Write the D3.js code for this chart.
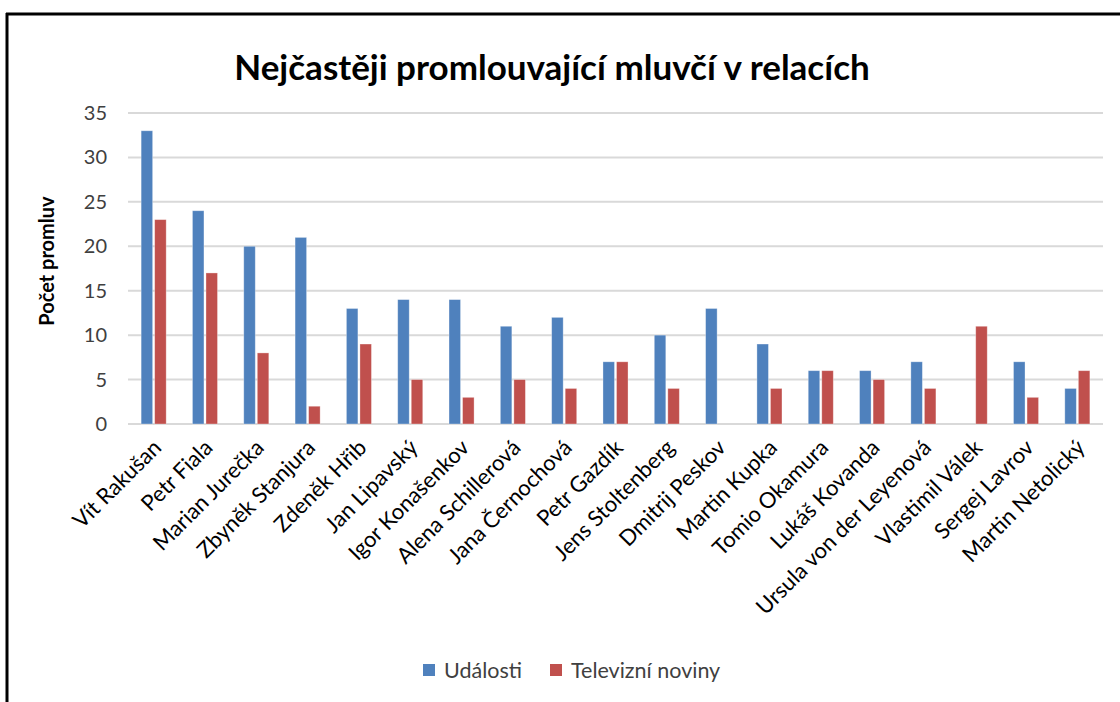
<!DOCTYPE html>
<html>
<head>
<meta charset="utf-8">
<script src="https://cdn.jsdelivr.net/npm/d3@7"></script>
<style>
  body { margin: 0; background: #fff; }
  svg { display: block; }
</style>
</head>
<body>
<div class="chart_wrapper"></div>
<script>
const speakers = ["Vít Rakušan", "Petr Fiala", "Marian Jurečka", "Zbyněk Stanjura", "Zdeněk Hřib",
  "Jan Lipavský", "Igor Konašenkov", "Alena Schillerová", "Jana Černochová", "Petr Gazdík",
  "Jens Stoltenberg", "Dmitrij Peskov", "Martin Kupka", "Tomio Okamura", "Lukáš Kovanda",
  "Ursula von der Leyenová", "Vlastimil Válek", "Sergej Lavrov", "Martin Netolický"]
const udalosti = [33, 24, 20, 21, 13, 14, 14, 11, 12, 7, 10, 13, 9, 6, 6, 7, 0, 7, 4]
const televizniNoviny = [23, 17, 8, 2, 9, 5, 3, 5, 4, 7, 4, 0, 4, 6, 5, 4, 11, 3, 6]
const seriesNames = ["Události", "Televizní noviny"]
const yTicks = [0, 5, 10, 15, 20, 25, 30, 35]

const width = 1120
const height = 702
const margin = { top: 113, left: 128, right: 17, bottom: 278 }
const colors = ["#4F81BD", "#C0504D"]
const font = "Lato, 'Open Sans', sans-serif"

const rows = speakers.map((name, i) => ({ name, values: [udalosti[i], televizniNoviny[i]] }))

const svg = d3.select('.chart_wrapper')
  .append('svg')
  .attr('width', width)
  .attr('height', height)

// frame (only left + top edges are visible in the crop)
svg.append("line").attr("x1", 7).attr("x2", 7).attr("y1", 13).attr("y2", height)
  .attr("stroke", "#000").attr("stroke-width", 3)
svg.append("line").attr("x1", 6).attr("x2", width).attr("y1", 14).attr("y2", 14)
  .attr("stroke", "#000").attr("stroke-width", 3)

const x0 = d3.scaleBand()
  .domain(speakers)
  .range([margin.left, width - margin.right])
  .padding(0)
const x1 = d3.scaleBand()
  .domain(d3.range(seriesNames.length))
  .range([0, x0.bandwidth()])
  .paddingInner(0.15)
  .paddingOuter(0.97)
const y = d3.scaleLinear()
  .domain([0, 35])
  .range([height - margin.bottom, margin.top])

// gridlines
svg.append("g")
  .selectAll("line")
  .data(yTicks)
  .join("line")
  .attr("x1", margin.left)
  .attr("x2", width - margin.right)
  .attr("y1", d => y(d))
  .attr("y2", d => y(d))
  .attr("stroke", "#D9D9D9")
  .attr("stroke-width", 2)

// y tick labels
svg.append("g")
  .style("font", `20px ${font}`)
  .attr("fill", "#404040")
  .attr("text-anchor", "end")
  .selectAll("text")
  .data(yTicks)
  .join("text")
  .attr("x", 107)
  .attr("y", d => y(d))
  .attr("dy", "0.35em")
  .text(d => d)

// bars
const group = svg.append("g")
  .selectAll("g")
  .data(rows)
  .join("g")
  .attr("transform", d => `translate(${x0(d.name)},0)`)
group.selectAll("rect")
  .data(d => d.values.map((v, i) => ({ v, i })))
  .join("rect")
  .attr("x", d => x1(d.i))
  .attr("width", x1.bandwidth())
  .attr("y", d => y(d.v))
  .attr("height", d => y(0) - y(d.v))
  .attr("fill", d => colors[d.i])
  .attr("stroke", "#fff")
  .attr("stroke-opacity", 0.4)
  .attr("stroke-width", 0.8)

// x labels rotated
svg.append("g")
  .style("font", `22px ${font}`)
  .attr("fill", "#000")
  .attr("text-anchor", "end")
  .selectAll("text")
  .data(speakers)
  .join("text")
  .attr("transform", d => `translate(${x0(d) + x0.bandwidth() / 2 + 9},${y(0) + 25}) rotate(-45)`)
  .text(d => d)

// title
svg.append("text")
  .attr("x", 552)
  .attr("y", 80)
  .attr("text-anchor", "middle")
  .style("font", `bold 35px ${font}`)
  .attr("fill", "#000")
  .text("Nejčastěji promlouvající mluvčí v relacích")

// y axis title
svg.append("text")
  .attr("transform", `translate(54,261) rotate(-90)`)
  .attr("text-anchor", "middle")
  .style("font", `bold 20px ${font}`)
  .attr("fill", "#000")
  .text("Počet promluv")

// legend
const legendX = [423, 550]
const legend = svg.append("g")
  .selectAll("g")
  .data(seriesNames)
  .join("g")
  .attr("transform", (d, i) => `translate(${legendX[i]},670)`)
legend.append("rect")
  .attr("x", 0).attr("y", -6)
  .attr("width", 12).attr("height", 12)
  .attr("fill", (d, i) => colors[i])
legend.append("text")
  .attr("x", 21)
  .attr("dy", "0.35em")
  .style("font", `21.5px ${font}`)
  .attr("fill", "#404040")
  .text(d => d)
</script>
</body>
</html>
